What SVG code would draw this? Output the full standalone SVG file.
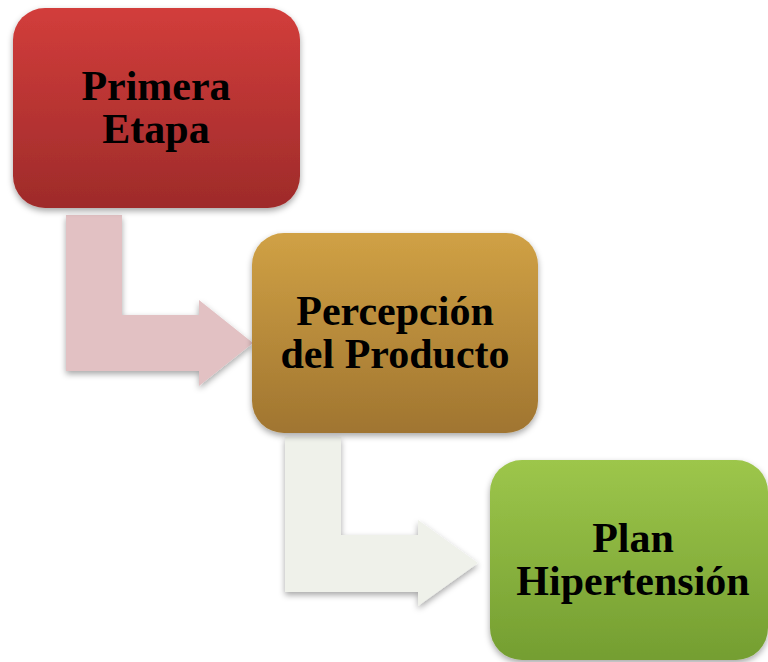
<svg xmlns="http://www.w3.org/2000/svg" width="768" height="662" viewBox="0 0 768 662">
  <defs>
    <linearGradient id="gRed" x1="0" y1="0" x2="0" y2="1">
      <stop offset="0" stop-color="#D23D3B"/>
      <stop offset="1" stop-color="#9E2B2A"/>
    </linearGradient>
    <linearGradient id="gGold" x1="0" y1="0" x2="0" y2="1">
      <stop offset="0" stop-color="#D0A145"/>
      <stop offset="1" stop-color="#A07530"/>
    </linearGradient>
    <linearGradient id="gGreen" x1="0" y1="0" x2="0" y2="1">
      <stop offset="0" stop-color="#9DC64B"/>
      <stop offset="1" stop-color="#749E31"/>
    </linearGradient>
    <filter id="shadow" x="-10%" y="-10%" width="125%" height="130%">
      <feDropShadow dx="0" dy="3" stdDeviation="3" flood-color="#000" flood-opacity="0.35"/>
    </filter>
  </defs>
  <style>
    .lbl { font-family: "Liberation Serif", "Times New Roman", serif; font-weight: bold; font-size: 42px; fill: #000; text-anchor: middle; }
    .box { filter: url(#shadow); }
    .conn { filter: url(#shadow); }
  </style>
  <rect width="768" height="662" fill="#FFFFFF"/>
  <g id="connectors">
    <path class="conn" d="M66,215 H122 V315 H199 V300 L253,343 L199,386 V371 H66 Z" fill="#E2C1C3"/>
    <path class="conn" d="M285,437 H341 V535 H418 V520 L478,563 L418,606 V592 H285 Z" fill="#EFF1EA"/>
  </g>
  <g id="node1">
    <rect class="box" x="13" y="8" width="287" height="200" rx="32" ry="32" fill="url(#gRed)"/>
    <text class="lbl" x="156" y="100">Primera</text>
    <text class="lbl" x="156" y="143">Etapa</text>
  </g>
  <g id="node2">
    <rect class="box" x="252" y="233" width="286" height="200" rx="32" ry="32" fill="url(#gGold)"/>
    <text class="lbl" x="395" y="325">Percepción</text>
    <text class="lbl" x="395" y="368">del Producto</text>
  </g>
  <g id="node3">
    <rect class="box" x="490" y="460" width="278" height="200" rx="32" ry="32" fill="url(#gGreen)"/>
    <text class="lbl" x="633" y="552">Plan</text>
    <text class="lbl" x="633" y="595">Hipertensión</text>
  </g>
</svg>
